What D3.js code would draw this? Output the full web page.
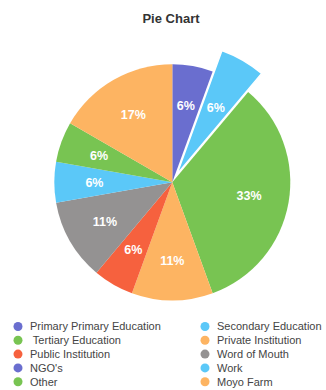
<!DOCTYPE html>
<html>
<head>
<meta charset="utf-8">
<script src="https://cdn.jsdelivr.net/npm/d3@7"></script>
<style>
  html, body { margin: 0; padding: 0; background: #fff; }
  svg { display: block; font-family: "Liberation Sans", Arial, sans-serif; }
</style>
</head>
<body>
<svg id="chart" width="326" height="390"></svg>
<script>
// Response counts per source (18 responses in total)
const categories = [
  "Primary Primary Education", "Secondary Education",
  " Tertiary Education", "Private Institution",
  "Public Institution", "Word of Mouth",
  "NGO's", "Work",
  "Other", "Moyo Farm"
];
const counts = [1, 1, 6, 2, 1, 2, 0, 1, 1, 3];
const colors = [
  "#6a6ecf", "#5bc8f8",
  "#78c452", "#fdb462",
  "#f6613e", "#949292",
  "#6a6ecf", "#5bc8f8",
  "#78c452", "#fdb462"
];
const highlighted = "Secondary Education";

const svg = d3.select("#chart");
const W = 326;
const cx = 172.3, cy = 182.3, radius = 118;

svg.append("text")
  .attr("x", 171).attr("y", 23)
  .attr("text-anchor", "middle")
  .attr("font-size", 13).attr("font-weight", "bold")
  .attr("fill", "#333")
  .text("Pie Chart");

const data = categories.map((c, i) => ({ name: c, value: counts[i], color: colors[i] }));
const total = d3.sum(counts);

const pie = d3.pie().value(d => d.value).sort(null);
const arcs = pie(data).filter(a => a.data.value > 0);

const arc = d3.arc().innerRadius(0).outerRadius(radius);
const arcHi = d3.arc().innerRadius(0).outerRadius(radius + 14);
const labelArc = d3.arc().innerRadius(radius * 0.66).outerRadius(radius * 0.66);

const g = svg.append("g").attr("transform", `translate(${cx},${cy})`);

g.selectAll("path.slice")
  .data(arcs)
  .join("path")
  .attr("class", "slice")
  .attr("d", d => d.data.name === highlighted ? arcHi(d) : arc(d))
  .attr("fill", d => d.data.color)
  .attr("stroke", d => d.data.name === highlighted ? "#fff" : "none")
  .attr("stroke-width", 1.5)
  .attr("transform", d => {
    if (d.data.name !== highlighted) return null;
    const m = (d.startAngle + d.endAngle) / 2;
    const off = 9;
    return `translate(${Math.sin(m) * off},${-Math.cos(m) * off})`;
  });

g.selectAll("text.pct")
  .data(arcs)
  .join("text")
  .attr("class", "pct")
  .attr("transform", d => {
    const [x, y] = labelArc.centroid(d);
    if (d.data.name === highlighted) {
      const m = (d.startAngle + d.endAngle) / 2;
      return `translate(${x + Math.sin(m) * 9},${y - Math.cos(m) * 9})`;
    }
    return `translate(${x},${y})`;
  })
  .attr("text-anchor", "middle")
  .attr("dy", "0.36em")
  .attr("font-size", 12.5).attr("font-weight", "bold")
  .attr("fill", "#fff")
  .text(d => Math.round(d.data.value / total * 100) + "%");

// Legend: two columns, filled row by row
const legend = svg.append("g");
const colX = [18, 205], rowY0 = 326.5, rowH = 13.8;
const items = legend.selectAll("g.item")
  .data(data)
  .join("g")
  .attr("class", "item")
  .attr("transform", (d, i) => `translate(${colX[i % 2]},${rowY0 + Math.floor(i / 2) * rowH})`);
items.append("circle").attr("r", 4.5).attr("fill", d => d.color);
items.append("text")
  .attr("x", 12).attr("dy", "0.35em")
  .attr("font-size", 11).attr("fill", "#444")
  .style("white-space", "pre")
  .text(d => d.name);
</script>
</body>
</html>
